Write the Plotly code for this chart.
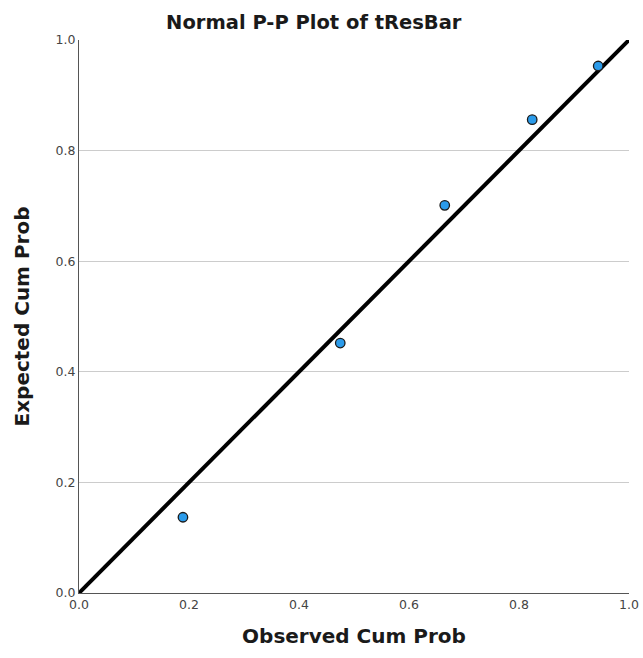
import plotly.graph_objects as go

observed = [0.189, 0.475, 0.665, 0.824, 0.944]
expected = [0.137, 0.452, 0.701, 0.856, 0.953]
ref_line = [0.0, 1.0]
tick_vals = [0.0, 0.2, 0.4, 0.6, 0.8, 1.0]
tick_text = ["0.0", "0.2", "0.4", "0.6", "0.8", "1.0"]

fig = go.Figure()
fig.add_trace(go.Scatter(x=ref_line, y=ref_line, mode="lines",
                         line=dict(color="#000000", width=4),
                         cliponaxis=False, hoverinfo="skip", showlegend=False))
fig.add_trace(go.Scatter(x=observed, y=expected, mode="markers",
                         marker=dict(size=9.5, color="#2b9bea",
                                     line=dict(color="#1a1a1a", width=1.3)),
                         cliponaxis=False, showlegend=False))

fig.update_layout(
    width=643, height=658, autosize=False,
    margin=dict(l=79, r=14, t=40, b=65, autoexpand=False),
    paper_bgcolor="white", plot_bgcolor="white",
    font=dict(family="DejaVu Sans", color="#333333"),
    title=dict(text="<b>Normal P-P Plot of tResBar</b>", x=0.488, xanchor="center",
               y=0.9666, yanchor="middle", font=dict(size=19.5, color="#1a1a1a")),
    xaxis=dict(range=[0, 1], tickvals=tick_vals, ticktext=tick_text,
               showgrid=False, zeroline=False, showline=True, automargin=False,
               linecolor="#555555", linewidth=1.2, ticks="", ticklen=0,
               tickfont=dict(size=12.5, color="#444444"),
               title=dict(text="<b>Observed Cum Prob</b>", standoff=17,
                          font=dict(size=20, color="#1a1a1a"))),
    yaxis=dict(range=[0, 1], tickvals=tick_vals, ticktext=tick_text,
               showgrid=True, gridcolor="#cccccc", gridwidth=1,
               zeroline=False, showline=True, automargin=False,
               linecolor="#555555", linewidth=1.2, ticks="", ticklen=0,
               tickfont=dict(size=12.5, color="#444444"),
               title=dict(text="<b>Expected Cum Prob</b>", standoff=20,
                          font=dict(size=20, color="#1a1a1a"))),
)

fig.write_html("out.html",
               config={"displayModeBar": False},
               post_script="document.body.style.margin='0';document.body.style.overflow='hidden';")
